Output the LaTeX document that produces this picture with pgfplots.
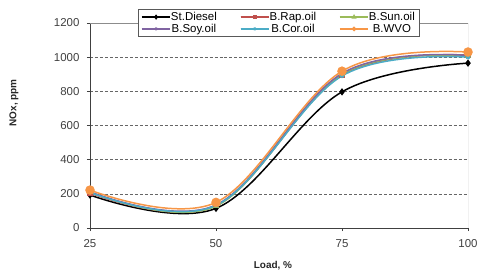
\documentclass[border=0pt]{standalone}
\usepackage{pgfplots}
\pgfplotsset{compat=1.18}
\usepackage{fontspec}
\setmainfont{Liberation Sans}
\definecolor{cRap}{HTML}{C0504D}
\definecolor{cSun}{HTML}{9BBB59}
\definecolor{cSoy}{HTML}{8064A2}
\definecolor{cCor}{HTML}{4BACC6}
\definecolor{cWVO}{HTML}{F79646}
\definecolor{tick}{HTML}{404040}
\begin{document}
\begin{tikzpicture}
\useasboundingbox (-90bp,-42bp) rectangle (398bp,228bp);
\begin{axis}[
  scale only axis,
  width=378bp, height=205bp,
  xmin=25, xmax=100, ymin=0, ymax=1200,
  xtick={25,50,75,100}, ytick={0,200,...,1200},
  axis lines*=left,
  axis line style={black!75, line width=0.8pt},
  tick align=outside,
  tick style={black!75, line width=0.8pt},
  major tick length=3bp,
  ymajorgrids,
  major grid style={black!60, densely dashed, line width=0.5pt},
  /pgf/number format/assume math mode=true,
  /pgf/number format/1000 sep={},
  ticklabel style={font=\fontsize{11.5}{12}\selectfont, text=tick},
  xticklabel style={yshift=-5bp},
  yticklabel style={xshift=-4bp},
  xlabel={\textbf{Load, \%}},
  ylabel={\textbf{NOx, ppm}},
  label style={font=\fontsize{10}{12}\selectfont, text=black!85},
  xlabel style={at={(rel axis cs:0.484,0)}, anchor=north, yshift=-30bp},
  ylabel style={at={(rel axis cs:0,0.61)}, anchor=south, rotate=0, yshift=68bp},
  legend columns=3,
  legend style={at={(0.5,1)}, anchor=center, draw=black!65, line width=0.8pt,
    font=\fontsize{11.5}{12}\selectfont, inner sep=0.5pt, inner xsep=3pt, row sep=-2pt,
    /tikz/every even column/.append style={column sep=21bp},
    /tikz/every odd column/.append style={column sep=-2bp}},
  legend image code/.code={\draw[#1, line width=1.5pt] (0cm,0cm) -- (0.5cm,0cm) -- (1cm,0cm); \path[#1, mark size=1.5pt, mark repeat=2,mark phase=2] plot coordinates {(0cm,0cm) (0.5cm,0cm) (1cm,0cm)};},
  every axis plot/.append style={line width=1.5pt, smooth, tension=0.6},
]
\addplot[black, mark=diamond*, mark size=2.5pt, mark options={solid}] coordinates {(25,193) (50,115) (75,797) (100,965)};
\addlegendentry{St.Diesel}
\addplot[cRap, mark=square*, mark size=1.8pt] coordinates {(25,205) (50,130) (75,895) (100,1012)};
\addlegendentry{B.Rap.oil}
\addplot[cSun, mark=triangle*, mark size=2.2pt] coordinates {(25,210) (50,128) (75,900) (100,1008)};
\addlegendentry{B.Sun.oil}
\addplot[cSoy, mark=x, mark size=2.2pt] coordinates {(25,212) (50,135) (75,905) (100,1010)};
\addlegendentry{B.Soy.oil}
\addplot[cCor, mark=asterisk, mark size=2.2pt] coordinates {(25,208) (50,132) (75,890) (100,1000)};
\addlegendentry{B.Cor.oil}
\addplot[cWVO, mark=*, mark size=4pt] coordinates {(25,222) (50,150) (75,918) (100,1030)};
\addlegendentry{B.WVO}
\draw[black!45, line width=0.8pt] (rel axis cs:0,1) -- (rel axis cs:1,1) -- (rel axis cs:1,0);
\end{axis}
\end{tikzpicture}
\end{document}
